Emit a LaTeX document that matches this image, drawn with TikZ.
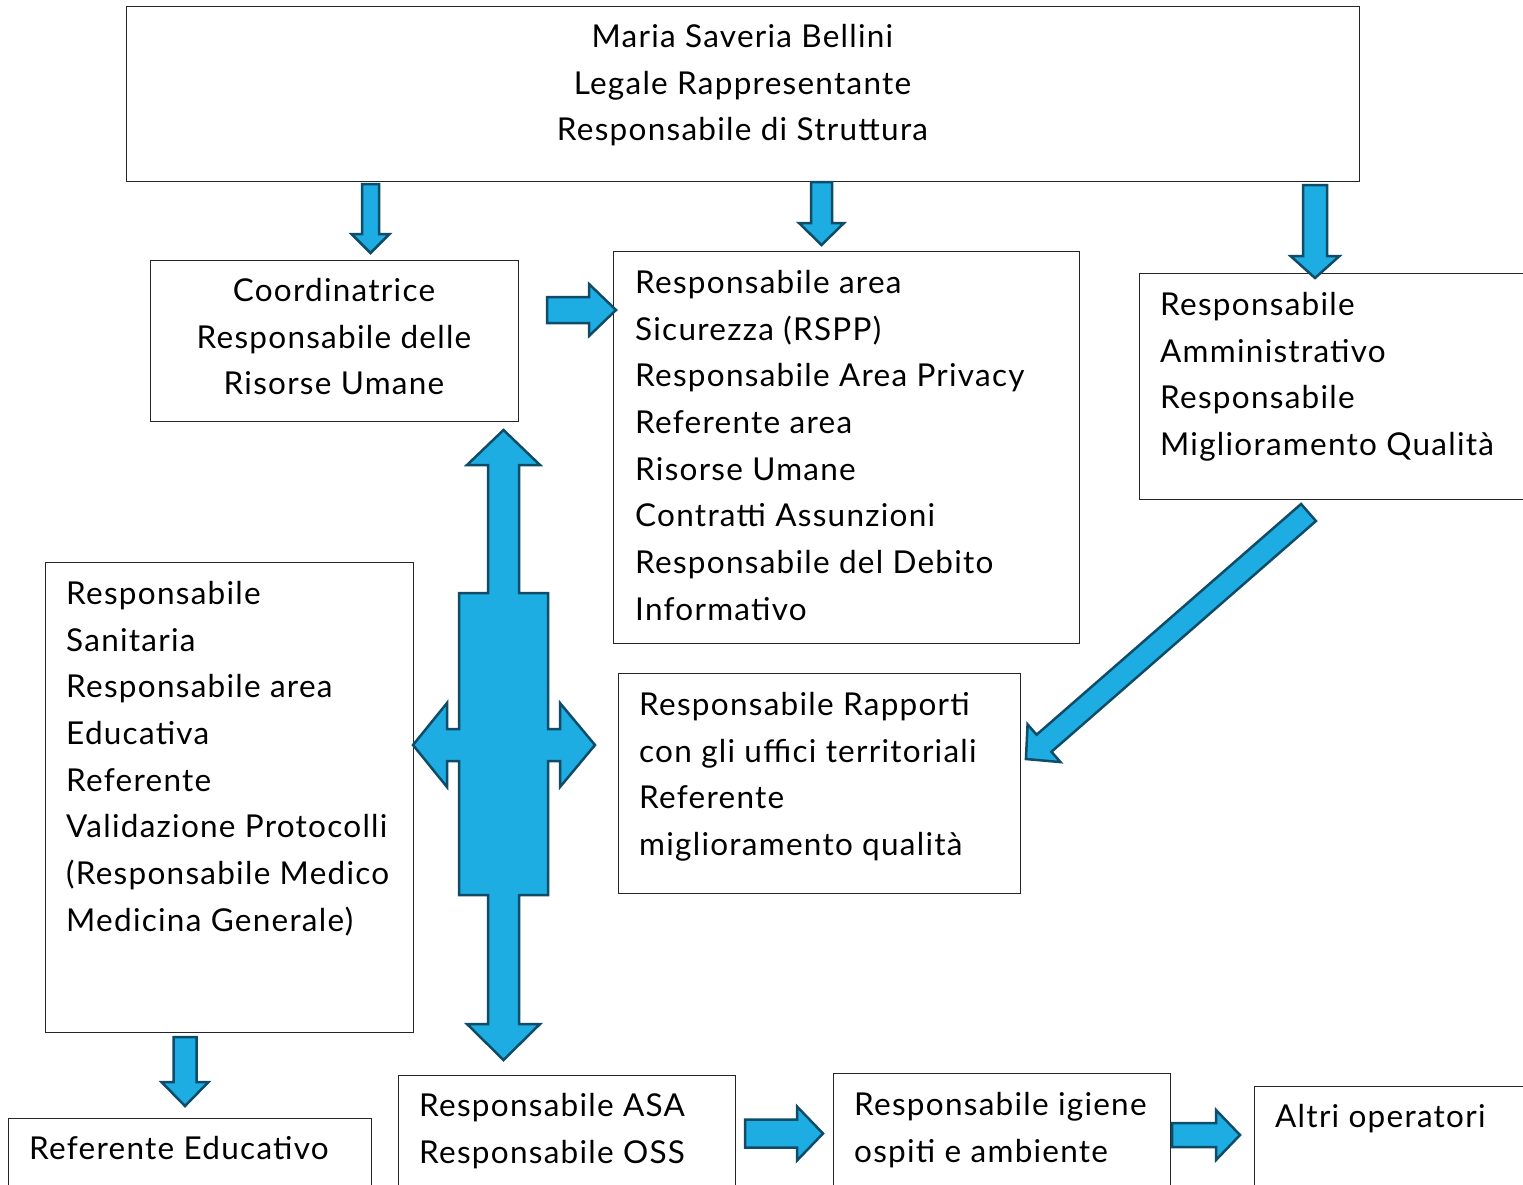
\documentclass[tikz,border=0pt]{standalone}
\usepackage{fontspec}
\setmainfont[LetterSpace=4]{Lato}
\usetikzlibrary{calc,positioning}
\definecolor{arrowfill}{RGB}{30,173,227}
\definecolor{arrowline}{RGB}{14,76,104}
\newcommand{\bodyfont}{\fontsize{31.5}{46.7}\selectfont}
\tikzset{
    box/.style = {draw=black!85, line width=1.3pt, anchor=north west, inner sep=0pt},
    boxtext/.style = {anchor=north west, inner sep=0pt, align=left, font=\bodyfont},
    fatarrow/.style = {fill=arrowfill, draw=arrowline, line width=2.5pt, line join=miter}
}
% block arrow: start, angle, length, shaft half width, head half width, head length
\newcommand{\fatarr}[6]{%
    \begin{scope}[shift={(#1)}, rotate=#2]
        \draw[fatarrow] (0,-#4) -- (#3-#6,-#4) -- (#3-#6,-#5) -- (#3,0)
            -- (#3-#6,#5) -- (#3-#6,#4) -- (0,#4) -- cycle;
    \end{scope}}

\begin{document}
\begin{tikzpicture}[x=1pt,y=-1pt]
    \path[use as bounding box, fill=white] (0,0) rectangle (1523,1184);
    \clip (0,0) rectangle (1523,1184);

    % boxes
    \node[box, minimum width=1233, minimum height=175] (top) at (126,6) {};
    \node[box, minimum width=368, minimum height=161] (coord) at (150,260) {};
    \node[box, minimum width=466, minimum height=392] (sicur) at (613,251) {};
    \node[box, minimum width=420, minimum height=226] (amm) at (1139,273) {};
    \node[box, minimum width=368, minimum height=470] (sani) at (45,562) {};
    \node[box, minimum width=402, minimum height=220] (rapp) at (618,673) {};
    \node[box, minimum width=363, minimum height=100] (educ) at (8,1118) {};
    \node[box, minimum width=337, minimum height=130] (asa) at (398,1075) {};
    \node[box, minimum width=337, minimum height=130] (igiene) at (833,1073) {};
    \node[box, minimum width=300, minimum height=120] (altri) at (1254,1086) {};

    % texts
    \node[boxtext, align=center, anchor=north] (topT) at (742.5,24)
        {Maria Saveria Bellini\\Legale Rappresentante\\Responsabile di Struttura};
    \node[boxtext, align=center, anchor=north] (coordT) at (334,278)
        {Coordinatrice\\Responsabile delle\\Risorse Umane};
    \node[boxtext] (sicurT) at (635,270)
        {Responsabile area\\Sicurezza (RSPP)\\Responsabile Area Privacy\\Referente area\\%
         Risorse Umane\\Contratti Assunzioni\\Responsabile del Debito\\Informativo};
    \node[boxtext] (ammT) at (1160,292)
        {Responsabile\\Amministrativo\\Responsabile\\Miglioramento Qualità};
    \node[boxtext] (saniT) at (66,581)
        {Responsabile\\Sanitaria\\Responsabile area\\Educativa\\Referente\\%
         Validazione Protocolli\\(Responsabile Medico\\Medicina Generale)};
    \node[boxtext] (rappT) at (639,692)
        {Responsabile Rapporti\\con gli uffici territoriali\\Referente\\miglioramento qualità};
    \node[boxtext] (educT) at (29,1136) {Referente Educativo};
    \node[boxtext] (asaT) at (419,1093) {Responsabile ASA\\Responsabile OSS};
    \node[boxtext] (igieneT) at (854,1092) {Responsabile igiene\\ospiti e ambiente};
    \node[boxtext] (altriT) at (1275,1104) {Altri operatori};

    % arrows
    \fatarr{370.5,184}{-90}{69}{8.5}{19}{19}
    \fatarr{821.5,182}{-90}{63}{10.5}{22.5}{22}
    \fatarr{1315,185}{-90}{93}{12}{24.5}{22}
    \fatarr{547,310}{0}{69}{13}{26}{27}
    \fatarr{1308.5,512.5}{-138.9}{375}{11.3}{25}{24}
    \fatarr{185,1037}{-90}{69}{11.5}{23.5}{24}
    \fatarr{745,1133.5}{0}{78}{14}{27}{26}
    \fatarr{1172,1135}{0}{68}{12}{25}{24}

    % four-way arrow
    \draw[fatarrow] (503.5,430) -- (540,465) -- (519,465) -- (519,593) -- (548,593)
        -- (548,729) -- (560,729) -- (560,703) -- (595,745) -- (560,787) -- (560,761)
        -- (548,761) -- (548,895) -- (519,895) -- (519,1024) -- (540,1024)
        -- (503.5,1060) -- (467,1024) -- (488,1024) -- (488,895) -- (459,895)
        -- (459,761) -- (447,761) -- (447,787) -- (413,745) -- (447,703) -- (447,729)
        -- (459,729) -- (459,593) -- (488,593) -- (488,465) -- (467,465) -- cycle;
\end{tikzpicture}
\end{document}
